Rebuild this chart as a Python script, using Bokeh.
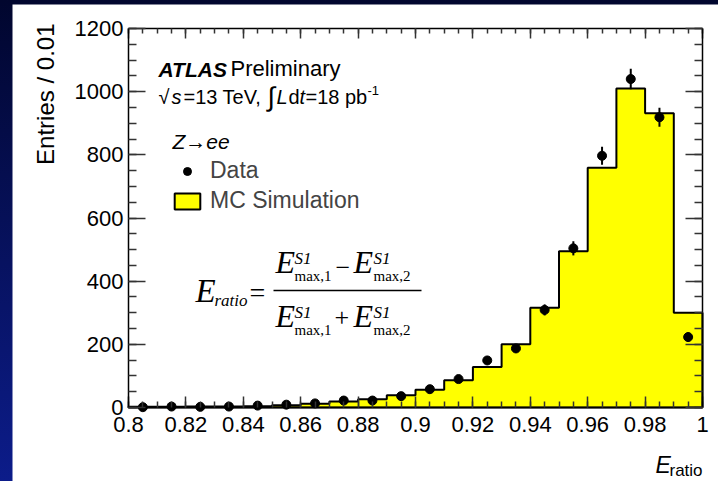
import numpy as np
from bokeh.plotting import figure
from bokeh.models import FixedTicker, LinearAxis, Label, Legend, LegendItem, Range1d
from bokeh.layouts import column
from bokeh.embed import file_html
from bokeh.resources import INLINE

# ---------------- data ----------------
bin_low = [0.80, 0.81, 0.82, 0.83, 0.84, 0.85, 0.86, 0.87, 0.88, 0.89,
           0.90, 0.91, 0.92, 0.93, 0.94, 0.95, 0.96, 0.97, 0.98, 0.99]
bin_width = 0.01
mc_counts = [2, 2, 3, 3, 4, 7, 12, 19, 26, 39,
             56, 86, 128, 200, 316, 495, 759, 1010, 932, 300]
data_counts = [1, 3, 2, 3, 6, 9, 13, 22, 22, 36,
               58, 90, 149, 187, 309, 504, 797, 1040, 919, 223]

x_ticks = [0.80, 0.82, 0.84, 0.86, 0.88, 0.90, 0.92, 0.94, 0.96, 0.98, 1.00]
x_tick_labels = ["0.8", "0.82", "0.84", "0.86", "0.88", "0.9", "0.92", "0.94", "0.96", "0.98", "1"]
y_ticks = [0, 200, 400, 600, 800, 1000, 1200]
y_tick_labels = ["0", "200", "400", "600", "800", "1000", "1200"]

X0, X1, Y0, Y1 = 0.8, 1.0, 0.0, 1200.0

# ---------------- layout helpers (window pixels -> data coords) ----------------
FL, FR, FT, FB = 128, 702, 28, 407          # plot box in window pixels
PL, PR, PT, PB = 12, 718, 4, 481            # white panel in window pixels


def dx(px):
    return X0 + (px - FL) / (FR - FL) * (X1 - X0)


def dy(py):
    return Y0 + (FB - py) / (FB - FT) * (Y1 - Y0)


SANS = "Liberation Sans"
SERIF = "Liberation Serif"

p = figure(width=PR - PL, height=PB - PT,
           x_range=Range1d(dx(PL), dx(PR)), y_range=Range1d(dy(PB), dy(PT)),
           output_backend="svg", toolbar_location=None, title=None,
           min_border=0, min_border_left=0, min_border_right=0,
           min_border_top=0, min_border_bottom=0)
p.margin = (PT, 0, 0, PL)
p.background_fill_color = "white"
p.border_fill_color = "white"
p.outline_line_color = None
p.xgrid.visible = False
p.ygrid.visible = False

x_minor = [round(0.8 + 0.005 * i, 3) for i in range(41)]
y_minor = [50 * i for i in range(25)]
xt = FixedTicker(ticks=x_ticks, minor_ticks=x_minor)
yt = FixedTicker(ticks=y_ticks, minor_ticks=y_minor)


def style_axis(ax, major_in, minor_in, ticks, labels):
    ax.axis_line_color = "black"
    ax.axis_line_width = 1.5
    ax.major_tick_in = major_in
    ax.major_tick_out = 0
    ax.minor_tick_in = minor_in
    ax.minor_tick_out = 0
    ax.major_tick_line_color = "#333333"
    ax.major_tick_line_width = 1.5
    ax.minor_tick_line_color = "#333333"
    ax.minor_tick_line_width = 1.5
    ax.major_label_text_font = SANS
    ax.major_label_text_color = "black"
    ax.major_label_text_font_size = "22px"
    ax.major_label_overrides = {t: l for t, l in zip(ticks, labels)}


xa = p.xaxis[0]
xa.ticker = xt
xa.fixed_location = Y0
xa.bounds = (X0, X1)
style_axis(xa, 11, 6, x_ticks, x_tick_labels)
xa.major_label_standoff = 9

ya = p.yaxis[0]
ya.ticker = yt
ya.fixed_location = X0
ya.bounds = (Y0, Y1)
style_axis(ya, 17, 8, y_ticks, y_tick_labels)
ya.major_label_standoff = 5

# mirrored tick marks (no labels) on the top and right edges of the box
top = LinearAxis(ticker=xt, fixed_location=Y1, bounds=(X0, X1))
style_axis(top, 10, 5, x_ticks, [""] * len(x_ticks))
p.add_layout(top, "above")
right = LinearAxis(ticker=yt, fixed_location=X1, bounds=(Y0, Y1))
style_axis(right, 17, 8, y_ticks, [""] * len(y_ticks))
p.add_layout(right, "right")

# ---------------- histogram (MC) ----------------
bin_high = [b + bin_width for b in bin_low]
xs = [bin_low[0]]
ys = [0]
for lo, hi, h in zip(bin_low, bin_high, mc_counts):
    xs += [lo, hi]
    ys += [h, h]
xs.append(bin_high[-1])
ys.append(0)
mc = p.patch(xs, ys, fill_color="#ffff00", line_color="black", line_width=2)

# ---------------- data points ----------------
centers = [b + bin_width / 2 for b in bin_low]
err = np.sqrt(np.array(data_counts, dtype=float))
p.segment(x0=centers, x1=centers, y0=np.array(data_counts) - err, y1=np.array(data_counts) + err,
          line_color="black", line_width=2)
pts = p.scatter(centers, data_counts, size=9, color="black")

# legend
legend = Legend(items=[LegendItem(label="Data", renderers=[pts]),
                       LegendItem(label="MC Simulation", renderers=[mc])],
                location=(171 - PL, PB - 214))
legend.background_fill_alpha = 0
legend.border_line_alpha = 0
legend.padding = 0
legend.margin = 0
legend.spacing = 3
legend.glyph_width = 32
legend.glyph_height = 20
legend.label_standoff = 7
legend.label_height = 20
legend.label_text_font = SANS
legend.label_text_font_size = "23px"
p.add_layout(legend)


def lab(px, base_py, text, size, font=SANS, style="normal", align="left"):
    # base_py is the wanted baseline; the text is anchored at its middle
    p.add_layout(Label(x=dx(px), y=dy(base_py - 0.35 * size), text=text, text_font=font,
                       text_font_size=f"{size}px", text_font_style=style, text_align=align,
                       text_baseline="middle", text_color="black"))


# axis titles
p.add_layout(Label(x=dx(53 - 0.35 * 24), y=dy(23), text="Entries / 0.01", text_font=SANS,
                   text_font_size="24px", text_align="right", text_baseline="middle",
                   angle=np.pi / 2, text_color="black"))
lab(655, 473, "E", 23, style="italic")
lab(669, 476, "ratio", 17)

# ATLAS texts
lab(158, 76, "ATLAS", 21, style="bold italic")
lab(230, 76, "Preliminary", 22)
lab(158, 103, "√", 20)
lab(171, 103, "s", 20, style="italic")
lab(183, 103, "=13 TeV,", 20)
lab(267, 106, "∫", 27)
lab(276, 103, "L", 20, style="italic")
lab(288, 103, "d", 20)
lab(299, 103, "t", 20, style="italic")
lab(305, 103, "=18 pb", 20)
lab(367, 95, "-1", 13)
lab(172, 148, "Z→ee", 21, style="italic")

# formula
lab(195, 302, "E", 33, font=SERIF, style="italic")
lab(214, 306, "ratio", 17, font=SERIF, style="italic")
lab(249, 302, "=", 28, font=SERIF)
# numerator
lab(275, 273, "E", 32, font=SERIF, style="italic")
lab(294, 264, "S1", 17, font=SERIF, style="italic")
lab(294, 281, "max,1", 15, font=SERIF)
lab(335, 276, "−", 26, font=SERIF)
lab(353, 273, "E", 32, font=SERIF, style="italic")
lab(373, 264, "S1", 17, font=SERIF, style="italic")
lab(373, 281, "max,2", 15, font=SERIF)
# denominator
lab(275, 327, "E", 32, font=SERIF, style="italic")
lab(294, 318, "S1", 17, font=SERIF, style="italic")
lab(294, 335, "max,1", 15, font=SERIF)
lab(334, 326, "+", 26, font=SERIF)
lab(353, 327, "E", 32, font=SERIF, style="italic")
lab(373, 318, "S1", 17, font=SERIF, style="italic")
lab(373, 335, "max,2", 15, font=SERIF)
p.segment(x0=[dx(273)], x1=[dx(421)], y0=[dy(290)], y1=[dy(290)], line_color="black", line_width=1.5)

layout = column(p, width=718, height=481,
                styles={"background": "linear-gradient(to bottom, #01062e, #0c1c8a)"})

open("out.html", "w").write(file_html(layout, INLINE))
